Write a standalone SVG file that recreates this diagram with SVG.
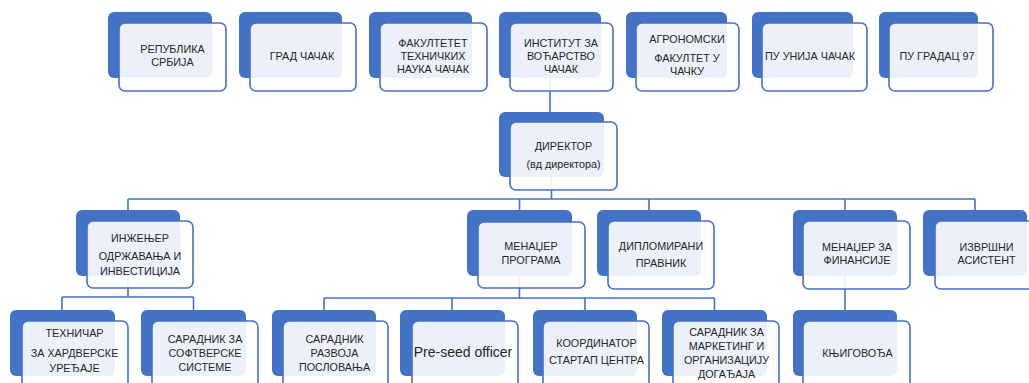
<svg xmlns="http://www.w3.org/2000/svg" width="1029" height="383" viewBox="0 0 1029 383">
<style>
.bk{fill:#4472C4}
.fr{fill:#FFFFFF;fill-opacity:0.9;stroke:#4472C4;stroke-width:1.6}
.c{fill:none;stroke:#4472C4;stroke-width:1.6}
text{font-family:"Liberation Sans",Arial,sans-serif;font-size:10.8px;fill:#262626;text-anchor:middle}
.big{font-size:14px}
</style>
<rect width="1029" height="383" fill="#FFFFFF"/>
<g id="connectors">
<path class="c" d="M550 77V112M551.5 177V199M128 199H975M128 199V210M519.5 199V210M649 199V210M845 199V210M975 199V210"/>
<path class="c" d="M128 276V297M62 297H193.5M62 297V310M193.5 297V310"/>
<path class="c" d="M519.5 276V298M324 298H714.5M324 298V310M452 298V310M585 298V310M714.5 298V310"/>
<path class="c" d="M845 276V310"/>
</g>
<g id="n1"><rect class="bk" x="108" y="12" width="104" height="66" rx="6"/><rect class="fr" x="119" y="23" width="107" height="68" rx="6"/><text x="172.5" y="53">РЕПУБЛИКА</text><text x="172.5" y="66">СРБИЈА</text></g>
<g id="n2"><rect class="bk" x="239" y="12" width="103" height="66" rx="6"/><rect class="fr" x="250" y="23" width="106" height="68" rx="6"/><text x="302" y="60">ГРАД ЧАЧАК</text></g>
<g id="n3"><rect class="bk" x="369" y="12" width="103" height="66" rx="6"/><rect class="fr" x="380" y="23" width="107" height="68" rx="6"/><text x="433" y="46.5">ФАКУЛТЕТЕТ</text><text x="433" y="59.5">ТЕХНИЧКИХ</text><text x="433" y="73">НАУКА ЧАЧАК</text></g>
<g id="n4"><rect class="bk" x="499" y="12" width="102" height="66" rx="6"/><rect class="fr" x="510" y="23" width="103" height="68" rx="6"/><text x="561" y="46.5">ИНСТИТУТ ЗА</text><text x="561" y="59.5">ВОЋАРСТВО</text><text x="561" y="73">ЧАЧАК</text></g>
<g id="n5"><rect class="bk" x="626" y="12" width="101" height="66" rx="6"/><rect class="fr" x="636" y="23" width="103" height="68" rx="6"/><text x="687" y="42.5">АГРОНОМСКИ</text><text x="687" y="61.5">ФАКУЛТЕТ У</text><text x="687" y="75">ЧАЧКУ</text></g>
<g id="n6"><rect class="bk" x="752" y="12" width="101" height="66" rx="6"/><rect class="fr" x="762" y="23" width="105" height="68" rx="6"/><text x="810" y="60">ПУ УНИЈА ЧАЧАК</text></g>
<g id="n7"><rect class="bk" x="879" y="12" width="99" height="66" rx="6"/><rect class="fr" x="889" y="23" width="104" height="68" rx="6"/><text x="937" y="60">ПУ ГРАДАЦ 97</text></g>
<g id="director"><rect class="bk" x="499" y="112" width="105" height="65" rx="6"/><rect class="fr" x="510" y="122" width="107" height="68" rx="6"/><text x="563.5" y="150">ДИРЕКТОР</text><text x="563.5" y="168">(вд директора)</text></g>
<g id="inzenjer"><rect class="bk" x="76" y="210" width="104" height="66" rx="6"/><rect class="fr" x="87" y="221" width="106" height="67" rx="6"/><text x="140" y="241.5">ИНЖЕЊЕР</text><text x="140" y="260">ОДРЖАВАЊА И</text><text x="140" y="275">ИНВЕСТИЦИЈА</text></g>
<g id="menadzer-programa"><rect class="bk" x="467" y="210" width="105" height="66" rx="6"/><rect class="fr" x="478" y="222" width="107" height="66" rx="6"/><text x="531" y="250">МЕНАЏЕР</text><text x="531" y="264">ПРОГРАМА</text></g>
<g id="pravnik"><rect class="bk" x="597" y="210" width="104" height="66" rx="6"/><rect class="fr" x="608" y="221" width="106" height="68" rx="6"/><text x="661" y="249.5">ДИПЛОМИРАНИ</text><text x="661" y="267">ПРАВНИК</text></g>
<g id="menadzer-finansije"><rect class="bk" x="793" y="210" width="104" height="66" rx="6"/><rect class="fr" x="803" y="221" width="107" height="68" rx="6"/><text x="857" y="250.5">МЕНАЏЕР ЗА</text><text x="857" y="264">ФИНАНСИЈЕ</text></g>
<g id="asistent"><rect class="bk" x="923" y="210" width="104" height="66" rx="6"/><rect class="fr" x="935" y="221" width="107" height="68" rx="6"/><text x="986.5" y="250.5">ИЗВРШНИ</text><text x="986.5" y="264">АСИСТЕНТ</text></g>
<g id="tehnicar"><rect class="bk" x="10" y="310" width="105" height="66" rx="6"/><rect class="fr" x="22" y="321" width="106" height="68" rx="6"/><text x="74.5" y="336.5">ТЕХНИЧАР</text><text x="74.5" y="356.5">ЗА ХАРДВЕРСКЕ</text><text x="74.5" y="371.5">УРЕЂАЈЕ</text></g>
<g id="softver"><rect class="bk" x="141" y="310" width="105" height="66" rx="6"/><rect class="fr" x="152" y="321" width="106" height="68" rx="6"/><text x="205" y="343">САРАДНИК ЗА</text><text x="205" y="356.5">СОФТВЕРСКЕ</text><text x="205" y="371">СИСТЕМЕ</text></g>
<g id="razvoj"><rect class="bk" x="272" y="310" width="104" height="66" rx="6"/><rect class="fr" x="283" y="321" width="105" height="68" rx="6"/><text x="334.5" y="343">САРАДНИК</text><text x="334.5" y="356.5">РАЗВОЈА</text><text x="334.5" y="371">ПОСЛОВАЊА</text></g>
<g id="preseed"><rect class="bk" x="400" y="310" width="105" height="66" rx="6"/><rect class="fr" x="412" y="321" width="106" height="68" rx="6"/><text class="big" x="463" y="357">Pre-seed officer</text></g>
<g id="koordinator"><rect class="bk" x="533" y="310" width="104" height="66" rx="6"/><rect class="fr" x="543" y="321" width="106" height="68" rx="6"/><text x="596.5" y="347">КООРДИНАТОР</text><text x="596.5" y="364">СТАРТАП ЦЕНТРА</text></g>
<g id="marketing"><rect class="bk" x="662" y="310" width="105" height="66" rx="6"/><rect class="fr" x="673" y="321" width="106" height="68" rx="6"/><text x="726.5" y="336">САРАДНИК ЗА</text><text x="726.5" y="350">МАРКЕТИНГ И</text><text x="726.5" y="364">ОРГАНИЗАЦИЈУ</text><text x="726.5" y="377.5">ДОГАЂАЈА</text></g>
<g id="knjigovodja"><rect class="bk" x="793" y="310" width="104" height="66" rx="6"/><rect class="fr" x="803" y="321" width="107" height="68" rx="6"/><text x="857.5" y="357">КЊИГОВОЂА</text></g>
</svg>
